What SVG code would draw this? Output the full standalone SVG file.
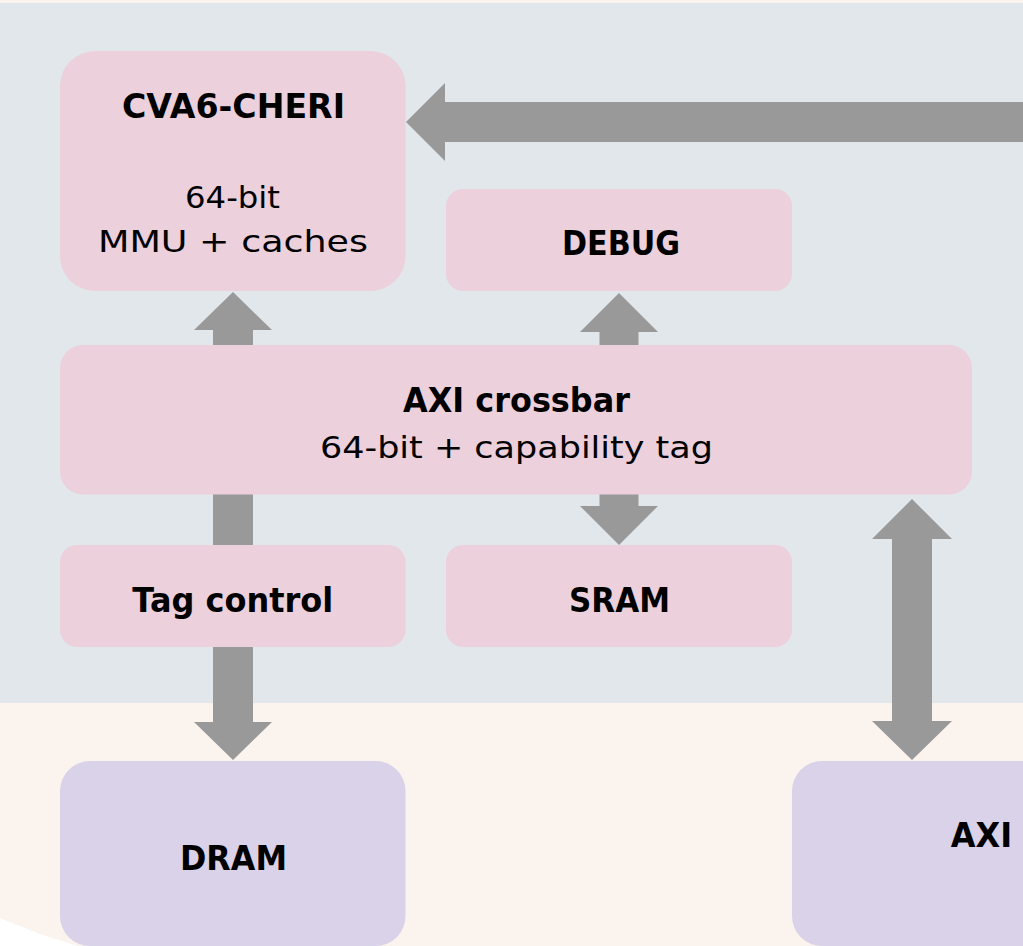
<svg xmlns="http://www.w3.org/2000/svg" width="1023" height="946" viewBox="0 0 1023 946">
<style>
.bg-top{fill:#E1E7EB}
.bg-bot{fill:#FBF3EE}
.soc{fill:#ECD0DC}
.ext{fill:#D9D2E9}
.arrow{fill:#999999}
.t{font-family:"DejaVu Sans","Liberation Sans",sans-serif;fill:#000;text-anchor:middle}
.b{font-weight:bold;font-size:34px}
.r{font-weight:normal;font-size:31px}
</style>
<rect x="0" y="0" width="1023" height="946" class="bg-bot"/>
<rect x="0" y="3" width="1023" height="700" class="bg-top"/>
<polygon points="0,918 40,934 78,946 0,946" fill="#FFFFFF"/>
<g id="connectors">
<polygon class="arrow" points="406,122 445,83 445,102 1030,102 1030,142 445,142 445,161"/>
<polygon class="arrow" points="233,292 272,330 253,330 253,722 272,722 233,760 194,722 213,722 213,330 194,330"/>
<polygon class="arrow" points="619,293 658,332 638.5,332 638.5,506 658,506 619,545 580,506 599.5,506 599.5,332 580,332"/>
<polygon class="arrow" points="912,499 952,539 932,539 932,721 952,721 912,760 872,721 892,721 892,539 872,539"/>
</g>
<g id="cva6">
<rect x="60" y="51" width="345.5" height="240" rx="35" class="soc"/>
<text x="233.5" y="118" class="t b" textLength="223" lengthAdjust="spacingAndGlyphs">CVA6-CHERI</text>
<text x="232.5" y="208" class="t r" textLength="95" lengthAdjust="spacingAndGlyphs">64-bit</text>
<text x="233" y="252" class="t r" textLength="270" lengthAdjust="spacingAndGlyphs">MMU + caches</text>
</g>
<g id="debug">
<rect x="446" y="189" width="346" height="102" rx="17" class="soc"/>
<text x="621" y="255" class="t b" textLength="118" lengthAdjust="spacingAndGlyphs">DEBUG</text>
</g>
<g id="crossbar">
<rect x="60" y="345" width="912" height="149.5" rx="23" class="soc"/>
<text x="516.5" y="412" class="t b" textLength="227" lengthAdjust="spacingAndGlyphs">AXI crossbar</text>
<text x="516.5" y="458" class="t r" textLength="393" lengthAdjust="spacingAndGlyphs">64-bit + capability tag</text>
</g>
<g id="tagctrl">
<rect x="60" y="545" width="345.5" height="102" rx="17" class="soc"/>
<text x="232.7" y="612" class="t b" textLength="201" lengthAdjust="spacingAndGlyphs">Tag control</text>
</g>
<g id="sram">
<rect x="446" y="545" width="346" height="102" rx="17" class="soc"/>
<text x="619.5" y="612" class="t b" textLength="101" lengthAdjust="spacingAndGlyphs">SRAM</text>
</g>
<g id="dram">
<rect x="60" y="761" width="345.5" height="185" rx="30" class="ext"/>
<text x="233.5" y="870" class="t b" textLength="107" lengthAdjust="spacingAndGlyphs">DRAM</text>
</g>
<g id="axi">
<rect x="792" y="761" width="280" height="185" rx="30" class="ext"/>
<text x="981.5" y="847" class="t b" textLength="61.3" lengthAdjust="spacingAndGlyphs">AXI</text>
</g>
</svg>
